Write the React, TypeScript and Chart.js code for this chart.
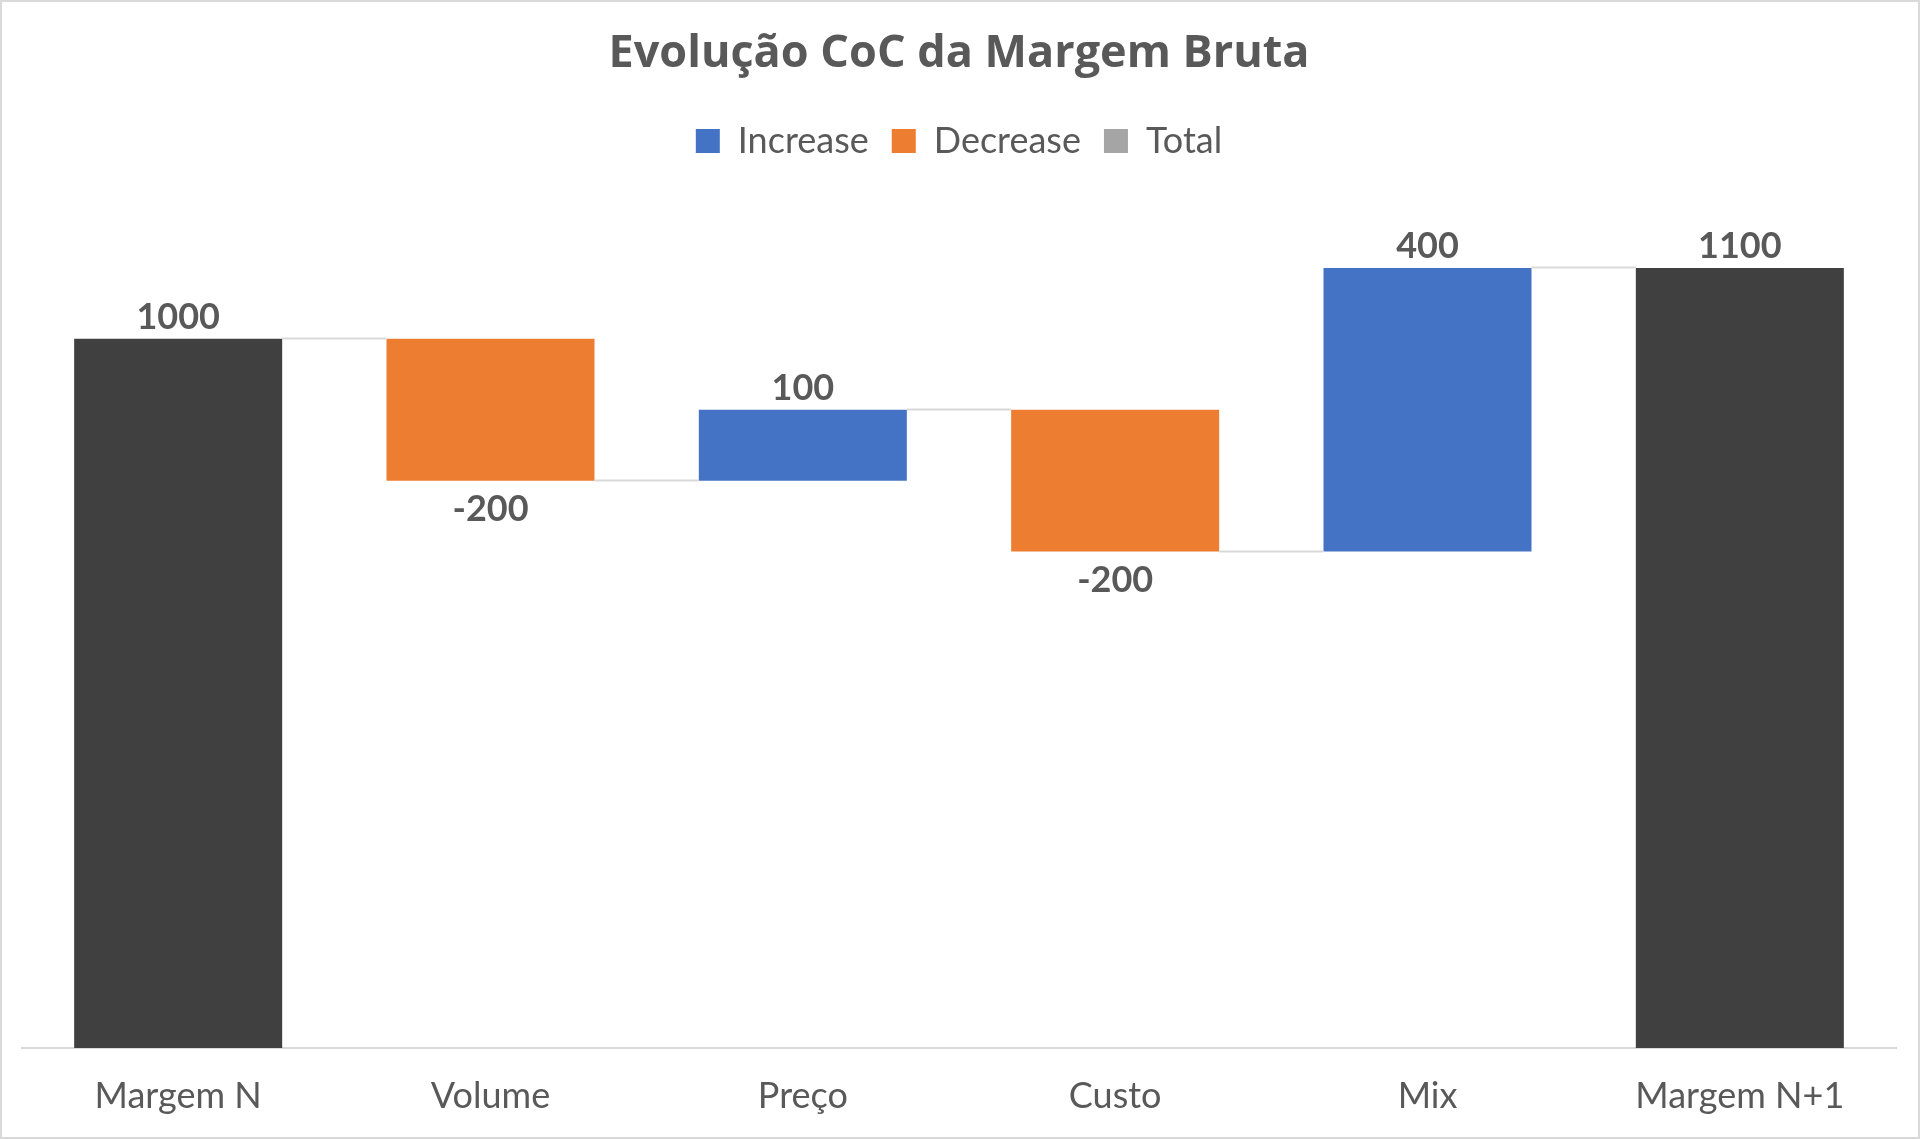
import React, { useEffect, useRef } from "react";
import { Chart, registerables } from "chart.js";

Chart.register(...registerables);

const categories = ["Margem N", "Volume", "Preço", "Custo", "Mix", "Margem N+1"];
const changes = [1000, -200, 100, -200, 400, 1100];
const kinds = ["total", "decrease", "increase", "decrease", "increase", "total"];
const seriesKeys = ["increase", "decrease", "total"];
const seriesNames = ["Increase", "Decrease", "Total"];
const seriesColors = ["#4472C4", "#ED7D31", "#404040"];
const legendColors = ["#4472C4", "#ED7D31", "#A5A5A5"];
const yMin = 0;
const yMax = 1200;
const titleText = "Evolução CoC da Margem Bruta";

const FONT = "Lato";
const TITLE_FONT = "'Open Sans'";
const TEXT = "#595959";
const LINE = "#D9D9D9";

function buildRanges(): [number, number][] {
  const out: [number, number][] = [];
  let running = 0;
  changes.forEach((v, i) => {
    if (kinds[i] === "total") {
      out.push([0, v]);
      running = v;
    } else {
      out.push([running, running + v]);
      running += v;
    }
  });
  return out;
}

export default function App() {
  const ref = useRef<HTMLCanvasElement | null>(null);

  useEffect(() => {
    if (!ref.current) return;
    const ranges = buildRanges();

    const datasets = seriesKeys.map((k, s) => ({
      label: seriesNames[s],
      data: categories.map((_, i) => (kinds[i] === k ? ranges[i] : null)),
      backgroundColor: seriesColors[s],
      borderWidth: 0,
      borderSkipped: false,
      grouped: false,
      barPercentage: 0.666,
      categoryPercentage: 1,
    }));

    const elementsByIndex = (chart: any) => {
      const els: any[] = [];
      chart.data.datasets.forEach((_: any, di: number) => {
        const meta = chart.getDatasetMeta(di);
        meta.data.forEach((el: any, i: number) => {
          const raw = chart.data.datasets[di].data[i];
          if (raw != null) els[i] = el;
        });
      });
      return els;
    };

    const legendGap = {
      id: "legendGap",
      beforeLayout(chart: any) {
        const lg = chart.legend;
        if (lg && !lg.__patched) {
          const orig = lg.fit;
          lg.fit = function () {
            orig.call(this);
            this.height += 28;
          };
          lg.__patched = true;
        }
      },
    };

    const waterfallDecor = {
      id: "waterfallDecor",
      afterDatasetsDraw(chart: any) {
        const ctx = chart.ctx;
        const y = chart.scales.y;
        const els = elementsByIndex(chart);
        ctx.save();
        ctx.strokeStyle = LINE;
        ctx.lineWidth = 2;
        for (let i = 0; i < els.length - 1; i++) {
          const a = els[i];
          const b = els[i + 1];
          if (!a || !b) continue;
          const level = ranges[i][1];
          const py = Math.round(y.getPixelForValue(level)) - 0.5;
          ctx.beginPath();
          ctx.moveTo(a.x + a.width / 2, py);
          ctx.lineTo(b.x - b.width / 2, py);
          ctx.stroke();
        }
        ctx.font = `bold 36px ${FONT}`;
        ctx.fillStyle = TEXT;
        ctx.textAlign = "center";
        ctx.textBaseline = "alphabetic";
        els.forEach((el, i) => {
          if (!el) return;
          const top = Math.min(el.y, el.base);
          const bottom = Math.max(el.y, el.base);
          const v = changes[i];
          if (v >= 0) ctx.fillText(String(v), el.x, top - 10);
          else ctx.fillText(String(v), el.x, bottom + 40);
        });
        ctx.restore();
      },
      afterDraw(chart: any) {
        const ctx = chart.ctx;
        ctx.save();
        ctx.strokeStyle = LINE;
        ctx.lineWidth = 2;
        ctx.strokeRect(1, 1, chart.width - 2, chart.height - 2);
        ctx.restore();
      },
    };

    const chart = new Chart(ref.current, {
      type: "bar",
      data: { labels: categories, datasets: datasets as any },
      options: {
        responsive: false,
        maintainAspectRatio: false,
        devicePixelRatio: 1,
        animation: false,
        layout: { padding: { left: 22, right: 24, top: 0, bottom: 21 } },
        plugins: {
          title: {
            display: true,
            text: titleText,
            color: TEXT,
            font: { family: TITLE_FONT, size: 45, weight: "bold" },
            padding: { top: 27, bottom: 19 },
          },
          legend: {
            display: true,
            position: "top",
            labels: {
              color: TEXT,
              font: { family: FONT, size: 36 },
              boxWidth: 24,
              boxHeight: 24,
              padding: 23,
              generateLabels: (c: any) => {
                const items = (Chart.defaults.plugins.legend.labels as any).generateLabels(c);
                return items.map((it: any, i: number) => ({
                  ...it,
                  fillStyle: legendColors[i],
                  strokeStyle: legendColors[i],
                  lineWidth: 0,
                }));
              },
            },
          },
          tooltip: { enabled: false },
        },
        scales: {
          x: {
            grid: { display: false, drawTicks: false },
            border: { display: true, color: LINE, width: 2 },
            ticks: {
              color: TEXT,
              font: { family: FONT, size: 36 },
              padding: 27,
            },
            afterFit: (scale: any) => {
              scale.height = 70;
            },
          },
          y: { display: false, min: yMin, max: yMax },
        },
      },
      plugins: [legendGap, waterfallDecor],
    });

    return () => chart.destroy();
  }, []);

  return (
    <div style={{ position: "fixed", left: 0, top: 0, width: 1920, height: 1139, background: "#fff" }}>
      <canvas ref={ref} width={1920} height={1139} style={{ display: "block", width: 1920, height: 1139 }} />
    </div>
  );
}
